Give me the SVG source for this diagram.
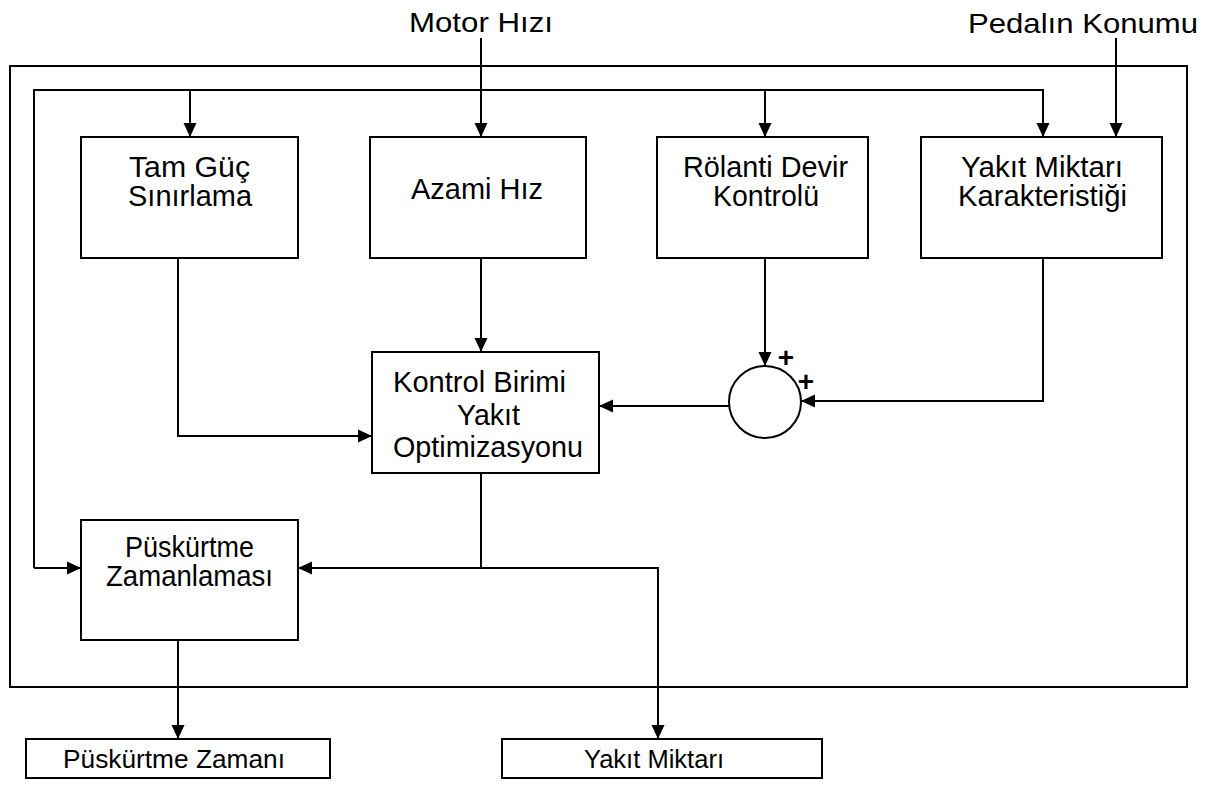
<svg xmlns="http://www.w3.org/2000/svg" width="1216" height="790" viewBox="0 0 1216 790">
<style>
.b{fill:#fff;stroke:#000;stroke-width:2}
.t{font-family:"Liberation Sans",Arial,sans-serif;font-size:29px;fill:#000;text-anchor:start}
.h{font-family:"Liberation Sans",Arial,sans-serif;font-size:28px;fill:#000;text-anchor:start}
.s{font-family:"Liberation Sans",Arial,sans-serif;font-size:25px;fill:#000;text-anchor:start}
.c{fill:none;stroke:#000;stroke-width:2}
.p{font-family:"Liberation Sans",Arial,sans-serif;font-size:28px;font-weight:bold;fill:#000;text-anchor:middle}
</style>
<defs>
<marker id="a" markerWidth="14" markerHeight="14" refX="14" refY="7" orient="auto" markerUnits="userSpaceOnUse">
<path d="M0,0.5 L14,7 L0,13.5 z" fill="#000"/>
</marker>
</defs>
<rect x="0" y="0" width="1216" height="790" fill="#fff"/>
<g id="frame"><rect x="10" y="66" width="1177" height="621" class="c"/></g>
<g id="connectors">
<path class="c" d="M481,38 V137" marker-end="url(#a)"/>
<path class="c" d="M1116,38 V137" marker-end="url(#a)"/>
<path class="c" d="M34,568 V90 H1043 V137" marker-end="url(#a)"/>
<path class="c" d="M190,90 V137" marker-end="url(#a)"/>
<path class="c" d="M765,90 V137" marker-end="url(#a)"/>
<path class="c" d="M34,568 H81" marker-end="url(#a)"/>
<path class="c" d="M481,258 V352" marker-end="url(#a)"/>
<path class="c" d="M178,258 V436 H372" marker-end="url(#a)"/>
<path class="c" d="M765,258 V366" marker-end="url(#a)"/>
<path class="c" d="M1043,258 V401 H801" marker-end="url(#a)"/>
<path class="c" d="M729,406 H599" marker-end="url(#a)"/>
<path class="c" d="M481,473 V568 H298" marker-end="url(#a)"/>
<path class="c" d="M481,568 H658 V739" marker-end="url(#a)"/>
<path class="c" d="M178,640 V739" marker-end="url(#a)"/>
</g>
<text class="h" x="409" y="32" textLength="144" lengthAdjust="spacingAndGlyphs">Motor Hızı</text>
<text class="h" x="968" y="33" textLength="230" lengthAdjust="spacingAndGlyphs">Pedalın Konumu</text>
<g id="tamguc"><rect class="b" x="81" y="137" width="217" height="121"/>
<text class="t" x="129" y="177" textLength="121" lengthAdjust="spacingAndGlyphs">Tam Güç</text><text class="t" x="128" y="206" textLength="124" lengthAdjust="spacingAndGlyphs">Sınırlama</text></g>
<g id="azami"><rect class="b" x="370" y="137" width="216" height="121"/>
<text class="t" x="411" y="199" textLength="132" lengthAdjust="spacingAndGlyphs">Azami Hız</text></g>
<g id="rolanti"><rect class="b" x="657" y="137" width="211" height="121"/>
<text class="t" x="683" y="177" textLength="165" lengthAdjust="spacingAndGlyphs">Rölanti Devir</text><text class="t" x="713" y="206" textLength="106" lengthAdjust="spacingAndGlyphs">Kontrolü</text></g>
<g id="yakitkar"><rect class="b" x="921" y="137" width="241" height="121"/>
<text class="t" x="961" y="177" textLength="162" lengthAdjust="spacingAndGlyphs">Yakıt Miktarı</text><text class="t" x="958" y="206" textLength="169" lengthAdjust="spacingAndGlyphs">Karakteristiği</text></g>
<g id="kontrol"><rect class="b" x="372" y="352" width="227" height="121"/>
<text class="t" x="393" y="392" textLength="173" lengthAdjust="spacingAndGlyphs">Kontrol Birimi</text><text class="t" x="457" y="425" textLength="63" lengthAdjust="spacingAndGlyphs">Yakıt</text><text class="t" x="393" y="457" textLength="190" lengthAdjust="spacingAndGlyphs">Optimizasyonu</text></g>
<g id="sum"><circle class="b" cx="765" cy="402" r="36"/>
<text class="p" x="786" y="367">+</text><text class="p" x="806" y="391">+</text></g>
<g id="puskurtme"><rect class="b" x="81" y="520" width="217" height="120"/>
<text class="t" x="125" y="557" textLength="129" lengthAdjust="spacingAndGlyphs">Püskürtme</text><text class="t" x="106" y="586" textLength="167" lengthAdjust="spacingAndGlyphs">Zamanlaması</text></g>
<g id="pzamani"><rect class="b" x="26" y="739" width="304" height="39"/>
<text class="s" x="63" y="768" textLength="222" lengthAdjust="spacingAndGlyphs">Püskürtme Zamanı</text></g>
<g id="ymiktar"><rect class="b" x="502" y="739" width="320" height="39"/>
<text class="s" x="584" y="768" textLength="140" lengthAdjust="spacingAndGlyphs">Yakıt Miktarı</text></g>
</svg>
